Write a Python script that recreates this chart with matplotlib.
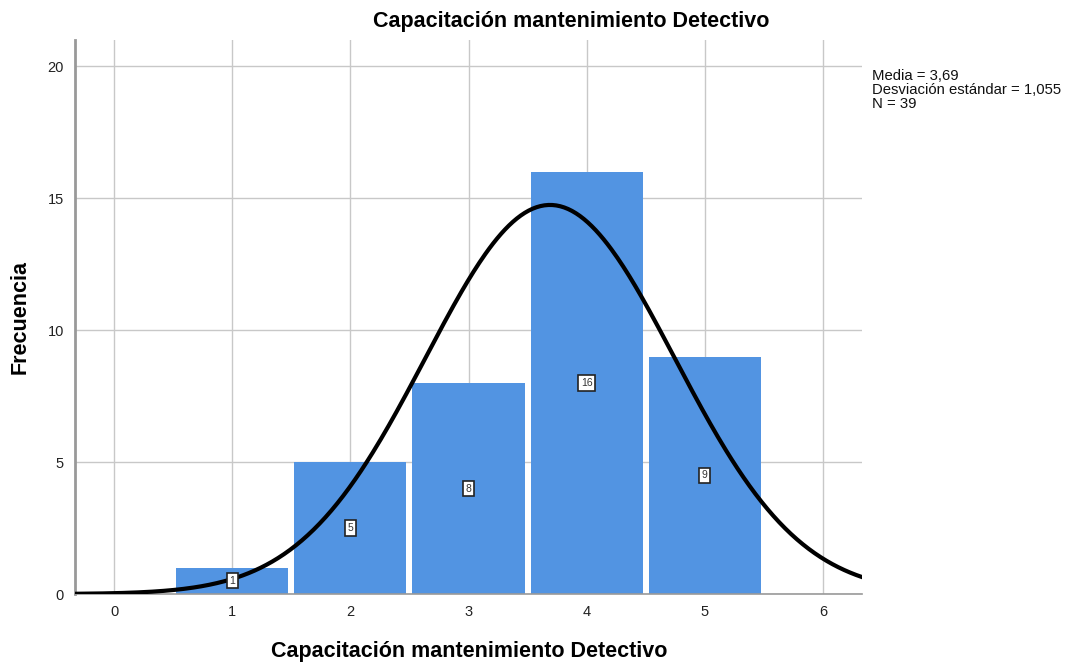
import numpy as np
import matplotlib
matplotlib.use("Agg")
import matplotlib.pyplot as plt

plt.rcParams["font.family"] = ["Liberation Sans", "DejaVu Sans"]

# datos del histograma
valores = [1, 2, 3, 4, 5]
frecuencias = [1, 5, 8, 16, 9]
media = 3.69
desv = 1.055
n_total = 39
x_ticks = [0, 1, 2, 3, 4, 5, 6]
y_ticks = [0, 5, 10, 15, 20]

BAR_COLOR = "#5294e2"
GRID_COLOR = "#c8c8c8"

fig = plt.figure(figsize=(10.66, 6.63), dpi=100)
ax = fig.add_axes([0.0704, 0.104, 0.7382, 0.8357])

ax.set_xlim(-0.33, 6.33)
ax.set_ylim(0, 21)

ax.set_xticks(x_ticks)
ax.set_yticks(y_ticks)
ax.grid(True, color=GRID_COLOR, linewidth=1.0)
ax.set_axisbelow(True)

ax.bar(valores, frecuencias, width=0.95, color=BAR_COLOR,
       linewidth=0, zorder=2)

# etiquetas con recuadro en el centro de cada barra
for v, f in zip(valores, frecuencias):
    ax.text(v, f / 2, str(f), ha="center", va="center", fontsize=7.5,
            color="#333333", zorder=5,
            bbox=dict(boxstyle="square,pad=0.25", facecolor="white",
                      edgecolor="#222222", linewidth=1.2))

# curva normal escalada
xs = np.linspace(-0.33, 6.33, 400)
ys = n_total * np.exp(-0.5 * ((xs - media) / desv) ** 2) / (desv * np.sqrt(2 * np.pi))
ax.plot(xs, ys, color="black", linewidth=3, zorder=4)

for side in ["top", "right"]:
    ax.spines[side].set_visible(False)
for side in ["left", "bottom"]:
    ax.spines[side].set_color("#999999")
ax.spines["left"].set_linewidth(2)
ax.spines["bottom"].set_linewidth(1.2)
ax.tick_params(length=0, labelsize=10.5, colors="#222222", pad=8)

# título y etiquetas de ejes en posiciones fijas
fig.text(571 / 1066, 1 - 22 / 663, "Capacitación mantenimiento Detectivo",
         fontsize=15.5, fontweight="bold", ha="center", va="center")
fig.text(469 / 1066, 1 - 652 / 663, "Capacitación mantenimiento Detectivo",
         fontsize=15.5, fontweight="bold", ha="center", va="center")
fig.text(20 / 1066, 1 - 317 / 663, "Frecuencia", rotation=90,
         fontsize=15.5, fontweight="bold", ha="center", va="center")

fig.text(0.818, 1 - 69 / 663, "Media = 3,69\nDesviación estándar = 1,055\nN = 39",
         fontsize=10.7, va="top", ha="left", linespacing=1.0, color="#111111")

fig.savefig("out.png", dpi=100)
